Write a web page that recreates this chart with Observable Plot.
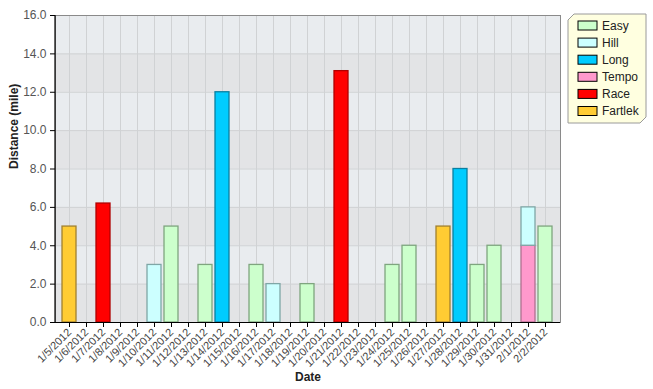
<!DOCTYPE html>
<html>
<head>
<meta charset="utf-8">
<script src="https://cdn.jsdelivr.net/npm/d3@7"></script>
<script src="https://cdn.jsdelivr.net/npm/@observablehq/plot@0.6"></script>
<style>
  html, body { margin: 0; padding: 0; background: #fff; }
  #chart { position: relative; width: 653px; height: 389px; }
  svg { font-family: Arial, "Liberation Sans", sans-serif; }
</style>
</head>
<body>
<div id="chart"></div>
<script>
const dates = ["1/5/2012","1/6/2012","1/7/2012","1/8/2012","1/9/2012","1/10/2012","1/11/2012","1/12/2012","1/13/2012","1/14/2012","1/15/2012","1/16/2012","1/17/2012","1/18/2012","1/19/2012","1/20/2012","1/21/2012","1/22/2012","1/23/2012","1/24/2012","1/25/2012","1/26/2012","1/27/2012","1/28/2012","1/29/2012","1/30/2012","1/31/2012","2/1/2012","2/2/2012"];

const types = ["Easy","Hill","Long","Tempo","Race","Fartlek"];
const typeFill = ["#ccffcc","#ccffff","#00ccff","#ff99cc","#ff0000","#ffcc33"];
const typeStroke = ["#7fa57f","#7fa6a6","#0a7fa0","#b07090","#b00000","#a08030"];

const runDates = ["1/5/2012","1/7/2012","1/10/2012","1/11/2012","1/13/2012","1/14/2012","1/16/2012","1/17/2012","1/19/2012","1/21/2012","1/24/2012","1/25/2012","1/27/2012","1/28/2012","1/29/2012","1/30/2012","2/1/2012","2/1/2012","2/2/2012"];
const runTypes = ["Fartlek","Race","Hill","Easy","Easy","Long","Easy","Hill","Easy","Race","Easy","Easy","Fartlek","Long","Easy","Easy","Tempo","Hill","Easy"];
const runMiles = [5,6.2,3,5,3,12,3,2,2,13.1,3,4,5,8,3,4,4,2,5];

const yTicks = [0,2,4,6,8,10,12,14,16];
const darkBands = [[0,2],[4,6],[8,10],[12,14]];

const runs = runDates.map((d, i) => ({date: d, type: runTypes[i], miles: runMiles[i]}));
const fillOf = Object.fromEntries(types.map((t, i) => [t, typeFill[i]]));
const strokeOf = Object.fromEntries(types.map((t, i) => [t, typeStroke[i]]));
const bands = darkBands.map(([a, b]) => ({a, b}));

const plot = Plot.plot({
  width: 653,
  height: 389,
  marginLeft: 55,
  marginTop: 15,
  marginRight: 93,
  marginBottom: 67,
  style: {fontFamily: 'Arial, "Liberation Sans", sans-serif', background: "#fff"},
  x: {type: "band", domain: dates, paddingInner: 0.17, paddingOuter: 0.085, label: null},
  y: {domain: [0, 16], label: null},
  color: {type: "identity"},
  marks: [
    Plot.frame({fill: "#e9ecef"}),
    Plot.rect(bands, {y1: "a", y2: "b", fill: "#e3e4e6"}),
    Plot.gridX({stroke: "#d0d2d4", strokeOpacity: 1}),
    Plot.gridY(yTicks, {stroke: "#d0d2d4", strokeOpacity: 1}),
    Plot.barY(runs, {x: "date", y: "miles", fill: d => fillOf[d.type], stroke: d => strokeOf[d.type], strokeWidth: 1.3, inset: 0}),
    Plot.frame({stroke: "#8a8a8a"}),
    Plot.ruleY([0], {stroke: "#000", strokeWidth: 1.2}),
    Plot.axisY({ticks: yTicks, tickFormat: d3.format(".1f"), tickSize: 5, tickPadding: 4, fontSize: 12, fill: "#555", stroke: "#000", label: null}),
    Plot.axisX({tickRotate: -45, tickSize: 5, tickPadding: 3, fontSize: 11, fill: "#444", stroke: "#000", label: null}),
    Plot.text(["Distance (mile)"], {frameAnchor: "left", rotate: -90, dx: -41, fontWeight: "bold", fontSize: 12, fill: "#222"}),
    Plot.text(["Date"], {frameAnchor: "bottom", dy: 58, fontWeight: "bold", fontSize: 12, fill: "#222"})
  ]
});

document.getElementById("chart").appendChild(plot);

// left axis line (drawn along the frame's left edge)
const svg = d3.select(plot);
const yScale = plot.scale("y");
const xScale = plot.scale("x");
const left = xScale.range[0];
svg.append("line")
  .attr("x1", left).attr("x2", left)
  .attr("y1", yScale.apply(16)).attr("y2", yScale.apply(0))
  .attr("stroke", "#000").attr("stroke-width", 1.2);

// legend
const lg = svg.append("g").attr("transform", "translate(568,14)")
  .attr("text-anchor", "start")
  .attr("font-family", 'Arial, "Liberation Sans", sans-serif');
const W = 78, H = 109, c = 6;
lg.append("polygon")
  .attr("points", [[c,0],[W,0],[W,H-c],[W-c,H],[0,H],[0,c]].map(p => p.join(",")).join(" "))
  .attr("fill", "#ffffe0").attr("stroke", "#9a9a9a").attr("stroke-width", 1);
types.forEach((t, i) => {
  const row = lg.append("g").attr("transform", `translate(10,${11.5 + i * 17.1})`);
  row.append("rect").attr("x", 0).attr("y", -4.5).attr("width", 19).attr("height", 9)
    .attr("fill", typeFill[i]).attr("stroke", "#000").attr("stroke-width", 1);
  row.append("text").attr("x", 24).attr("y", 0).attr("dy", "0.35em")
    .attr("text-anchor", "start")
    .attr("font-size", 12).attr("fill", "#222").text(t);
});
</script>
</body>
</html>
